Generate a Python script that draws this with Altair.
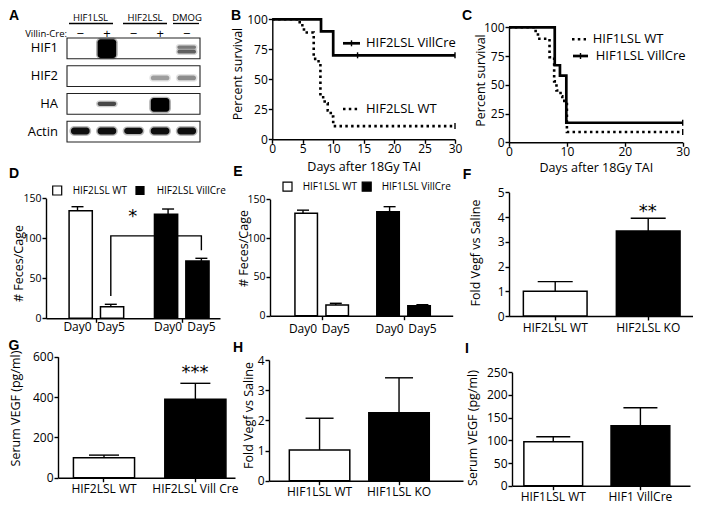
import altair as alt
import pandas as pd

FONT = "Open Sans"
W, H = 685, 497
M = 8


def px(v):
    return v - M


def py(v):
    return v - M


# ---------------- data ----------------
# Panel A: western blot
lanes = ["L1", "L2", "L3", "L4", "L5"]
cre_signs = ["\u2212", "+", "\u2212", "+", "\u2212"]
blot_rows = ["HIF1", "HIF2", "HA", "Actin"]
band_rows = ["HIF1", "HIF1", "HIF1", "HIF2", "HIF2", "HA", "HA",
             "Actin", "Actin", "Actin", "Actin", "Actin"]
band_lanes = ["L2", "L5", "L5", "L4", "L5", "L2", "L4", "L1", "L2", "L3", "L4", "L5"]
band_top = [0.06, 0.36, 0.57, 0.47, 0.47, 0.40, 0.22, 0.30, 0.30, 0.32, 0.30, 0.30]
band_bottom = [0.96, 0.52, 0.75, 0.70, 0.70, 0.60, 0.88, 0.64, 0.64, 0.62, 0.64, 0.64]
band_intensity = [1.0, 0.45, 0.55, 0.32, 0.38, 0.65, 1.0, 0.92, 0.92, 0.92, 0.92, 0.92]

# Panel B: survival, HIF2LSL
b_cre_day = [0, 8, 10, 30]
b_cre_surv = [100, 90, 70, 70]
b_wt_day = [0, 4.5, 5.2, 6.8, 7.3, 7.9, 8.6, 9.1, 9.6, 10, 30]
b_wt_surv = [100, 95, 89, 67, 65, 35, 30, 24, 19, 11, 11]
b_censor_day = [14, 30, 30]
b_censor_surv = [70, 70, 11]

# Panel C: survival, HIF1LSL
c_cre_day = [0, 7.9, 8.8, 9.9, 30]
c_cre_surv = [100, 67, 58, 17, 17]
c_wt_day = [0, 4.6, 5.0, 7.0, 7.8, 8.2, 8.9, 9.2, 10, 30]
c_wt_surv = [100, 95, 90, 74, 53, 45, 40, 36, 9, 9]
c_censor_day = [30, 30]
c_censor_surv = [17, 9]

days = ["Day0", "Day5"]
# Panel D: feces per cage, HIF2LSL
d_groups = ["HIF2LSL WT", "HIF2LSL VillCre"]
d_mean = [134.5, 14.5, 130.0, 71.6]
d_sem = [5.0, 3.0, 6.6, 3.4]
bracket_groups = ["HIF2LSL WT", "HIF2LSL WT", "HIF2LSL VillCre", "HIF2LSL VillCre"]
bracket_vals = [28, 103, 103, 85]

# Panel E: feces per cage, HIF1LSL
e_groups = ["HIF1LSL WT", "HIF1LSL VillCre"]
e_mean = [132.0, 13.8, 134.0, 12.9]
e_sem = [4.0, 2.2, 6.5, 1.3]

# Panels F-I
f_cats = ["HIF2LSL WT", "HIF2LSL KO"]
f_mean = [1.0, 3.44]
f_sem = [0.39, 0.51]
g_cats = ["HIF2LSL WT", "HIF2LSL Vill Cre"]
g_mean = [99, 389]
g_sem = [13, 79]
h_cats = ["HIF1LSL WT", "HIF1LSL KO"]
h_mean = [1.02, 2.25]
h_sem = [1.05, 1.16]
i_cats = ["HIF1LSL WT", "HIF1 VillCre"]
i_mean = [97, 132]
i_sem = [11, 40]

# ---------------- helpers ----------------
layers = []
LBL = 12
TTL = 12.5


def axis_common(**kw):
    base = dict(grid=False, domainColor="black", domainWidth=1.4, tickColor="black",
                tickWidth=1.4, tickSize=4, labelFont=FONT, labelFontSize=LBL,
                labelColor="black", titleFont=FONT, titleFontSize=TTL,
                titleFontWeight="normal", titleColor="black", labelFlush=False,
                labelOverlap=False)
    base.update(kw)
    return alt.Axis(**base)


def x_axis(axis_y, **kw):
    kw.setdefault("labelPadding", 0)
    return axis_common(orient="bottom", offset=py(axis_y) - H, **kw)


def y_axis(axis_x, **kw):
    kw.setdefault("labelPadding", 1)
    return axis_common(orient="left", offset=-px(axis_x), **kw)


one = pd.DataFrame({"k": [0]})


def T(text, x, y, size=13, align="left", weight="normal", font=FONT, dy=0):
    return alt.Chart(pd.DataFrame({"t": [text]})).mark_text(
        align=align, baseline="middle", fontSize=size, font=font, fontWeight=weight,
        color="black", dy=dy).encode(x=alt.value(px(x)), y=alt.value(py(y)), text="t:N")


def R(x1, y1, x2, y2, width=1.4, dash=None):
    mk = dict(color="black", strokeWidth=width)
    if dash:
        mk["strokeDash"] = dash
    return alt.Chart(one).mark_rule(**mk).encode(
        x=alt.value(px(x1)), x2=alt.value(px(x2)), y=alt.value(py(y1)), y2=alt.value(py(y2)))


def SQ(x, y, fill, side=9):
    return alt.Chart(one).mark_square(size=side * side, fill=fill, stroke="black",
                                      strokeWidth=1.2, opacity=1).encode(
        x=alt.value(px(x)), y=alt.value(py(y)))


DOT = [2.5, 3.3]

# ---------------- Panel A ----------------
def lane_scale(pad_inner=0.3, pad_outer=0.15):
    return alt.Scale(domain=lanes, range=[px(67), px(200)], paddingInner=pad_inner,
                     paddingOuter=pad_outer)


def blot_y():
    return alt.Scale(domain=[0, 3.75], range=[py(38), py(142)], nice=False, zero=False)


row_index = {r: i for i, r in enumerate(blot_rows)}
frames = pd.DataFrame({"row": blot_rows})
frames["y0"] = frames["row"].map(row_index)
frames["y1"] = frames["y0"] + 0.75
frames["ym"] = frames["y0"] + 0.375

layers.append(alt.Chart(frames).mark_rect(fill="white", stroke="#222", strokeWidth=1.1).encode(
    x=alt.value(px(67)), x2=alt.value(px(200)),
    y=alt.Y("y0:Q", scale=blot_y(), axis=None), y2="y1:Q"))

bands = pd.DataFrame({"row": band_rows, "lane": band_lanes, "top": band_top,
                      "bottom": band_bottom, "intensity": band_intensity})
bands["y0"] = bands["row"].map(row_index) + 0.75 * bands["top"]
bands["y1"] = bands["row"].map(row_index) + 0.75 * bands["bottom"]
bands["halo0"] = bands["y0"] - 0.05
bands["halo1"] = bands["y1"] + 0.05
bands["halo_op"] = bands["intensity"] * 0.3
# soft halo, then band core
layers.append(alt.Chart(bands).mark_rect(fill="black", cornerRadius=5).encode(
    x=alt.X("lane:N", scale=lane_scale(0.18, 0.09), axis=None),
    y=alt.Y("halo0:Q", scale=blot_y(), axis=None), y2="halo1:Q",
    opacity=alt.Opacity("halo_op:Q", scale=None)))
layers.append(alt.Chart(bands).mark_rect(fill="black", cornerRadius=3).encode(
    x=alt.X("lane:N", scale=lane_scale(), axis=None),
    y=alt.Y("y0:Q", scale=blot_y(), axis=None), y2="y1:Q",
    opacity=alt.Opacity("intensity:Q", scale=None)))

layers.append(alt.Chart(frames).mark_text(align="right", baseline="middle", font=FONT,
                                          fontSize=13, color="black").encode(
    x=alt.value(px(58)), y=alt.Y("ym:Q", scale=blot_y(), axis=None), text="row:N"))

cre_df = pd.DataFrame({"lane": lanes, "sign": cre_signs})
layers.append(alt.Chart(cre_df).mark_text(font=FONT, fontSize=13, baseline="middle",
                                          color="black").encode(
    x=alt.X("lane:N", scale=lane_scale(), axis=None), y=alt.value(py(34)), text="sign:N"))

layers += [T("Villin-Cre:", 67, 34, 9.5, align="right"),
           T("HIF1LSL", 90.5, 18, 9.5, align="center"), R(69, 23.5, 113, 23.5, 1.3),
           T("HIF2LSL", 145, 18, 9.5, align="center"), R(123, 23.5, 167, 23.5, 1.3),
           T("DMOG", 187, 18, 9.5, align="center"), R(173, 23.5, 199, 23.5, 1.3)]


# ---------------- survival panels ----------------
def survival(x0, x1, y0, y1, xticks, solid, dotted, censor, title_x, title_cy, xtitle_dy):
    xs = alt.Scale(domain=[0, 30], range=[px(x0), px(x1)], nice=False)
    ys = alt.Scale(domain=[0, 100], range=[py(y0), py(y1)], nice=False)
    dd = pd.DataFrame({"day": dotted[0], "surv": dotted[1]})
    sd = pd.DataFrame({"day": solid[0], "surv": solid[1]})
    cd = pd.DataFrame({"day": censor[0], "surv": censor[1]})
    out = []
    out.append(alt.Chart(dd).mark_line(interpolate="step-after", color="black", strokeWidth=2.6,
                                       strokeDash=DOT).encode(
        x=alt.X("day:Q", scale=xs, axis=x_axis(y0, values=xticks, title="Days after 18Gy TAI",
                                               titleY=xtitle_dy, titleBaseline="middle")),
        y=alt.Y("surv:Q", scale=ys, axis=y_axis(x0, values=[0, 25, 50, 75, 100],
                                                title="Percent survival", titleX=title_x,
                                                titleY=py(title_cy), titleBaseline="middle"))))
    out.append(alt.Chart(sd).mark_line(interpolate="step-after", color="black",
                                       strokeWidth=2.7).encode(
        x=alt.X("day:Q", scale=xs, axis=None), y=alt.Y("surv:Q", scale=ys, axis=None)))
    out.append(alt.Chart(cd).mark_tick(orient="vertical", size=6, thickness=1.4,
                                       color="black", opacity=1).encode(
        x=alt.X("day:Q", scale=xs, axis=None), y=alt.Y("surv:Q", scale=ys, axis=None)))
    return out


layers += survival(272.3, 455, 139.3, 19.3, list(range(0, 31, 5)),
                   (b_cre_day, b_cre_surv), (b_wt_day, b_wt_surv),
                   (b_censor_day, b_censor_surv), -34.6, 73.5, 26.7)
layers += [R(343, 43.3, 360, 43.3, 2.7), R(351.5, 40.3, 351.5, 46.3, 1.4),
           T("HIF2LSL VillCre", 366, 43.3, 13),
           R(343, 109, 358, 109, 2.6, DOT), T("HIF2LSL WT", 366, 109, 13)]

layers += survival(509, 682.7, 142.3, 27.3, [0, 10, 20, 30],
                   (c_cre_day, c_cre_surv), (c_wt_day, c_wt_surv),
                   (c_censor_day, c_censor_surv), -29, 80, 25)
layers += [R(572, 39.3, 586, 39.3, 2.6, DOT), T("HIF1LSL WT", 592.7, 39.3, 13),
           R(573, 56, 588, 56, 2.7), R(580.5, 53, 580.5, 59, 1.4),
           T("HIF1LSL VillCre", 595.7, 56, 13)]


# ---------------- grouped bar panels (D, E) ----------------
# bars sit at (group index * group_gap + day index) on a linear x scale
def grouped(groups, means, sems, ax_x, x_end, y0, y1, c0, unit, group_gap, bar_w,
            title_x, title_cy, label_y):
    n = len(days)
    df = pd.DataFrame({"group": [g for g in groups for _ in range(n)],
                       "day": days * len(groups), "mean": means})
    df["upper"] = df["mean"] + pd.Series(sems)
    df["pos"] = [gi * group_gap + di for gi in range(len(groups)) for di in range(n)]
    xs = alt.Scale(domain=[(ax_x - c0) / unit, (x_end - c0) / unit],
                   range=[px(ax_x), px(x_end)], nice=False, zero=False)
    ys = alt.Scale(domain=[0, 150], range=[py(y0), py(y1)], nice=False)
    group_ticks = [gi * group_gap + (n - 1) / 2 for gi in range(len(groups))]
    base = alt.Chart(df)
    out = []
    out.append(base.mark_rule(color="black", strokeWidth=1.4).encode(
        x=alt.X("pos:Q", scale=xs, axis=None),
        y=alt.Y("mean:Q", scale=ys, axis=None), y2="upper:Q"))
    out.append(base.mark_tick(orient="horizontal", size=12, thickness=1.4, color="black",
                              opacity=1).encode(
        x=alt.X("pos:Q", scale=xs, axis=None),
        y=alt.Y("upper:Q", scale=ys, axis=None)))
    out.append(base.mark_bar(stroke="black", strokeWidth=1.5, width=bar_w).encode(
        x=alt.X("pos:Q", scale=xs, axis=x_axis(y0, labels=False, title=None,
                                               values=group_ticks)),
        y=alt.Y("mean:Q", scale=ys, axis=y_axis(ax_x, values=[0, 50, 100, 150],
                                                labelFontSize=10.5,
                                                title="# Feces/Cage", titleX=title_x,
                                                titleY=py(title_cy), titleBaseline="middle")),
        fill=alt.Fill("group:N", scale=alt.Scale(domain=groups, range=["white", "black"]),
                      legend=None)))
    out.append(base.mark_text(font=FONT, fontSize=LBL, baseline="middle", color="black").encode(
        x=alt.X("pos:Q", scale=xs, axis=None),
        y=alt.value(py(label_y)), text="day:N"))
    return out, xs, ys


D_GAP = 2.72
d_layers, dxs, dys = grouped(d_groups, d_mean, d_sem, 46, 220, 318.3, 198.3,
                             77.5, 33.3, D_GAP, 23.2, -28, 263, 327)
layers += d_layers
br = pd.DataFrame({"group": bracket_groups, "v": bracket_vals, "o": list(range(4))})
br["pos"] = [d_groups.index(g) * D_GAP + days.index("Day5") for g in bracket_groups]
layers.append(alt.Chart(br).mark_line(color="black", strokeWidth=1.4).encode(
    x=alt.X("pos:Q", scale=dxs, axis=None),
    y=alt.Y("v:Q", scale=dys, axis=None), order="o:Q"))
layers += [T("*", 132.7, 213.3, 18, align="center", font="DejaVu Sans", dy=4),
           SQ(57.2, 190.5, "white"), T("HIF2LSL WT", 72.7, 190.5, 10),
           SQ(140, 190.5, "black", 8), T("HIF2LSL VillCre", 156.7, 190.5, 10)]

e_layers, _, _ = grouped(e_groups, e_mean, e_sem, 270, 452.7, 315.7, 199.3,
                         303, 32.8, 2.64, 22.5, -27, 248, 329)
layers += e_layers
layers += [SQ(287.5, 186.7, "white"), T("HIF1LSL WT", 302.7, 186.7, 10),
           SQ(366.7, 186.7, "black"), T("HIF1LSL VillCre", 381.7, 186.7, 10)]


# ---------------- two-bar panels (F-I) ----------------
def two_bar(cats, means, sems, ax_x, x_end, y0, y1, ymax, yticks, pi, po, align, cap,
            ytitle, title_x, title_cy):
    df = pd.DataFrame({"cat": cats, "mean": means})
    df["upper"] = df["mean"] + pd.Series(sems)
    xs = alt.Scale(domain=cats, range=[px(ax_x), px(x_end)], paddingInner=pi,
                   paddingOuter=po, align=align)
    ys = alt.Scale(domain=[0, ymax], range=[py(y0), py(y1)], nice=False)
    base = alt.Chart(df)
    return [
        base.mark_rule(color="black", strokeWidth=1.4).encode(
            x=alt.X("cat:N", scale=xs, axis=None),
            y=alt.Y("mean:Q", scale=ys, axis=None), y2="upper:Q"),
        base.mark_tick(orient="horizontal", size=cap, thickness=1.4, color="black",
                       opacity=1).encode(
            x=alt.X("cat:N", scale=xs, axis=None),
            y=alt.Y("upper:Q", scale=ys, axis=None)),
        base.mark_bar(stroke="black", strokeWidth=1.5).encode(
            x=alt.X("cat:N", scale=xs, sort=cats,
                    axis=x_axis(y0, title=None, labelAngle=0, labelPadding=2)),
            y=alt.Y("mean:Q", scale=ys, axis=y_axis(ax_x, values=yticks, title=ytitle,
                                                    titleX=title_x, titleY=py(title_cy),
                                                    titleBaseline="middle")),
            fill=alt.Fill("cat:N", scale=alt.Scale(domain=cats, range=["white", "black"]),
                          legend=None)),
    ]


layers += two_bar(f_cats, f_mean, f_sem, 509, 695, 316, 192.3, 5, [0, 1, 2, 3, 4, 5],
                  0.315, 0.1575, 0.49, 35, "Fold Vegf vs Saline", -33.5, 252.5)
layers += two_bar(g_cats, g_mean, g_sem, 58, 235, 477.7, 356.7, 600, [0, 200, 400, 600],
                  0.331, 0.134, 0.63, 30, "Serum VEGF (pg/ml)", -42.3, 408)
layers += two_bar(h_cats, h_mean, h_sem, 269, 463, 480.7, 360, 4, [0, 1, 2, 3, 4],
                  0.239, 0.34, 0.376, 28, "Fold Vegf vs Saline", -21, 415)
layers += two_bar(i_cats, i_mean, i_sem, 512, 690, 485.7, 372.3, 250,
                  [0, 50, 100, 150, 200, 250], 0.326, 0.184, 0.37, 34,
                  "Serum VEGF (pg/ml)", -40, 427.5)
layers += [T("**", 647.7, 208, 18, align="center", font="DejaVu Sans", dy=4),
           T("***", 195, 369, 18, align="center", font="DejaVu Sans", dy=4)]

# ---------------- panel letters ----------------
letters = ["A", "B", "C", "D", "E", "F", "G", "H", "I"]
letter_pos = [(14, 16), (236, 16), (467, 16), (14, 174), (238, 172), (467, 175),
              (14, 346), (238, 348), (467, 349)]
for L, (lx, ly) in zip(letters, letter_pos):
    layers.append(T(L, lx, ly, 14, align="center", weight="bold", font="Liberation Sans"))

chart = alt.layer(*layers).resolve_scale(
    x="independent", y="independent", fill="independent", opacity="independent"
).properties(
    width=W, height=H, autosize=alt.AutoSizeParams(type="none"), padding=0
).configure_view(stroke=None)

chart.save("out.html", embed_options={"renderer": "svg", "actions": False})
